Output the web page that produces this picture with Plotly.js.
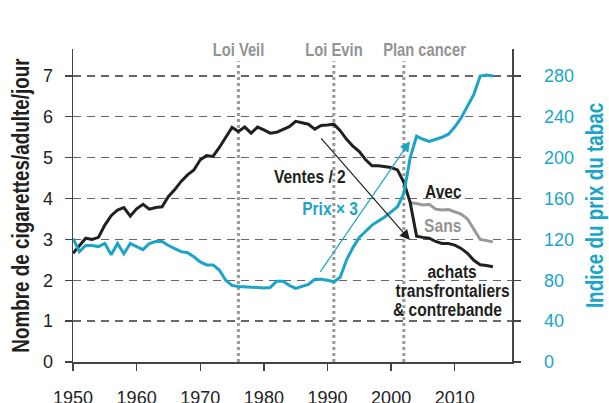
<!DOCTYPE html>
<html>
<head>
<meta charset="utf-8">
<script src="https://cdn.plot.ly/plotly-3.0.1.min.js"></script>
<style>html,body{margin:0;padding:0;background:#fff;}#chart{width:609px;height:403px;}</style>
</head>
<body>
<div id="chart"></div>
<script>
// Years
const years = [];
for (let y = 1950; y <= 2016; y++) years.push(y);

// Ventes / 2 (cigarettes per adult per day) - "Avec" series
const ventes = [2.66,2.85,3.03,3.00,3.05,3.35,3.58,3.72,3.78,3.57,
  3.75,3.86,3.74,3.78,3.80,4.05,4.22,4.42,4.58,4.70,
  4.95,5.05,5.03,5.25,5.50,5.74,5.64,5.75,5.60,5.75,
  5.68,5.60,5.62,5.70,5.76,5.89,5.85,5.82,5.70,5.79,
  5.80,5.82,5.66,5.45,5.28,5.15,4.95,4.80,4.80,4.78,
  4.76,4.70,4.40,3.90,3.08,3.05,3.03,2.95,2.90,2.90,
  2.86,2.78,2.66,2.49,2.38,2.36,2.33];

// "Sans" series (without cross-border purchases & contraband)
const sansYears = [2003,2004,2005,2006,2007,2008,2009,2010,2011,2012,2013,2014,2015,2016];
const sans = [3.90,3.88,3.84,3.86,3.74,3.72,3.73,3.68,3.62,3.50,3.24,3.00,2.97,2.94];

// Indice du prix du tabac
const prix = [121,108,114,114,113,116,105,116,106,116,
  113,110,116,118,118,114,111,108,107,103,
  98,95,95,90,80,75,74,73.5,73,72.5,
  72.5,73,79,79,75,72,74,76,81,81,
  80,78.5,83,100,112,122,128,134,138,142,
  147,152,165,200,221,218,216,218,220,223,
  230,239,250,262,280,281,280];

// Events
const eventYears = [1976, 1991, 2002];
const eventLabels = ["Loi Veil", "Loi Evin", "Plan cancer"];
const eventLabelX = [1976.0, 1991.1, 2005.3];

// Axis ticks
const xTicks = [1950,1960,1970,1980,1990,2000,2010];
const yTicks = [0,1,2,3,4,5,6,7];
const y2Ticks = [0,40,80,120,160,200,240,280];

const TEAL = "#1aa5c8";
const DARK = "#231f20";
const GREY = "#999999";
const BOLDF = "'Liberation Sans', Arial, sans-serif";
const REG = "'Liberation Sans', Arial, sans-serif";
const CONDENSE = 0.82;

const traces = [
  {x: years, y: prix, yaxis: "y2", mode: "lines", line: {color: TEAL, width: 3}, hoverinfo: "skip"},
  {x: sansYears, y: sans, mode: "lines", line: {color: GREY, width: 3}, hoverinfo: "skip"},
  {x: years, y: ventes, mode: "lines", line: {color: DARK, width: 3}, hoverinfo: "skip"}
];

const shapes = eventYears.map(yr => ({
  type: "line", xref: "x", yref: "y", x0: yr, x1: yr, y0: 0, y1: 7.36,
  line: {color: "#9a9a9a", width: 3, dash: "dot"}, layer: "below"
}));

const boldFont = (size, color) => ({family: BOLDF, size: size, color: color, weight: "bold"});

const annotations = [];
eventLabels.forEach((t, i) => annotations.push({
  text: "<b>" + t + "</b>", x: eventLabelX[i], xref: "x", y: 0.997, yref: "paper",
  showarrow: false, xanchor: "center", yanchor: "middle", font: boldFont(18, "#939393")
}));

// arrows
annotations.push({x: 2002.96, y: 2.985, xref: "x", yref: "y", ax: 1988.8, ay: 5.51, axref: "x", ayref: "y",
  text: "", showarrow: true, arrowhead: 2, arrowsize: 1.7, arrowwidth: 1.2, arrowcolor: DARK});
annotations.push({x: 2002.96, y: 5.40, xref: "x", yref: "y", ax: 1988.7, ay: 2.17, axref: "x", ayref: "y",
  text: "", showarrow: true, arrowhead: 2, arrowsize: 1.7, arrowwidth: 1.2, arrowcolor: TEAL});

const labels = [
  ["Ventes / 2", 1987.25, 4.54, DARK],
  ["Prix × 3", 1990.45, 3.76, TEAL],
  ["Avec", 2008.3, 4.17, DARK],
  ["Sans", 2008.1, 3.35, "#939393"],
  ["achats", 2009.6, 2.21, DARK],
  ["transfrontaliers", 2009.7, 1.76, DARK],
  ["& contrebande", 2008.9, 1.29, DARK]
];
labels.forEach(l => annotations.push({
  text: "<b>" + l[0] + "</b>", x: l[1], y: l[2], xref: "x", yref: "y",
  showarrow: false, xanchor: "center", yanchor: "middle", font: boldFont(19, l[3])
}));

const layout = {
  width: 609, height: 403,
  margin: {l: 73, r: 97, t: 49, b: 41, pad: 0},
  paper_bgcolor: "#fff", plot_bgcolor: "#fff",
  showlegend: false,
  xaxis: {
    range: [1950, 2019], tickvals: xTicks, ticks: "outside", ticklen: 7, tickwidth: 1.3, tickcolor: "#444",
    showline: true, linecolor: "#444", linewidth: 1.5, showgrid: false, zeroline: false,
    tickfont: {family: REG, size: 18, color: "#222"}, ticklabelstandoff: 12
  },
  yaxis: {
    range: [0, 7.66], tickvals: yTicks, ticks: "outside", ticklen: 7, tickwidth: 1.3, tickcolor: "#444",
    showline: true, linecolor: "#444", linewidth: 1.5, zeroline: false,
    showgrid: true, gridcolor: "#666", gridwidth: 1.3, griddash: "8px,6px",
    tickfont: {family: REG, size: 18, color: "#222"}, ticklabelstandoff: 8,
    title: {text: "<b>Nombre de cigarettes/adulte/jour</b>", font: boldFont(23, DARK), standoff: 7}
  },
  yaxis2: {
    overlaying: "y", side: "right", range: [0, 306.4], tickvals: y2Ticks,
    ticks: "outside", ticklen: 7, tickwidth: 1.3, tickcolor: "#444",
    showline: true, linecolor: "#444", linewidth: 1.5, showgrid: false, zeroline: false,
    tickfont: {family: REG, size: 18, color: TEAL}, ticklabelstandoff: 20,
    title: {text: "<b>Indice du prix du tabac</b>", font: boldFont(23, TEAL), standoff: 14}
  },
  shapes: shapes,
  annotations: annotations
};

// Mimic the condensed bold typeface of the original by narrowing bold texts horizontally
function condense(gd) {
  gd.querySelectorAll("text.annotation-text, text.ytitle, text.y2title").forEach(t => {
    const x = parseFloat(t.getAttribute("x")) || 0;
    const y = parseFloat(t.getAttribute("y")) || 0;
    const prev = t.getAttribute("transform") || "";
    t.setAttribute("transform", prev + " translate(" + x + "," + y + ") scale(" + CONDENSE + ",1) translate(" + (-x) + "," + (-y) + ")");
  });
}

Plotly.newPlot("chart", traces, layout, {displayModeBar: false, staticPlot: true}).then(condense);
</script>
</body>
</html>
